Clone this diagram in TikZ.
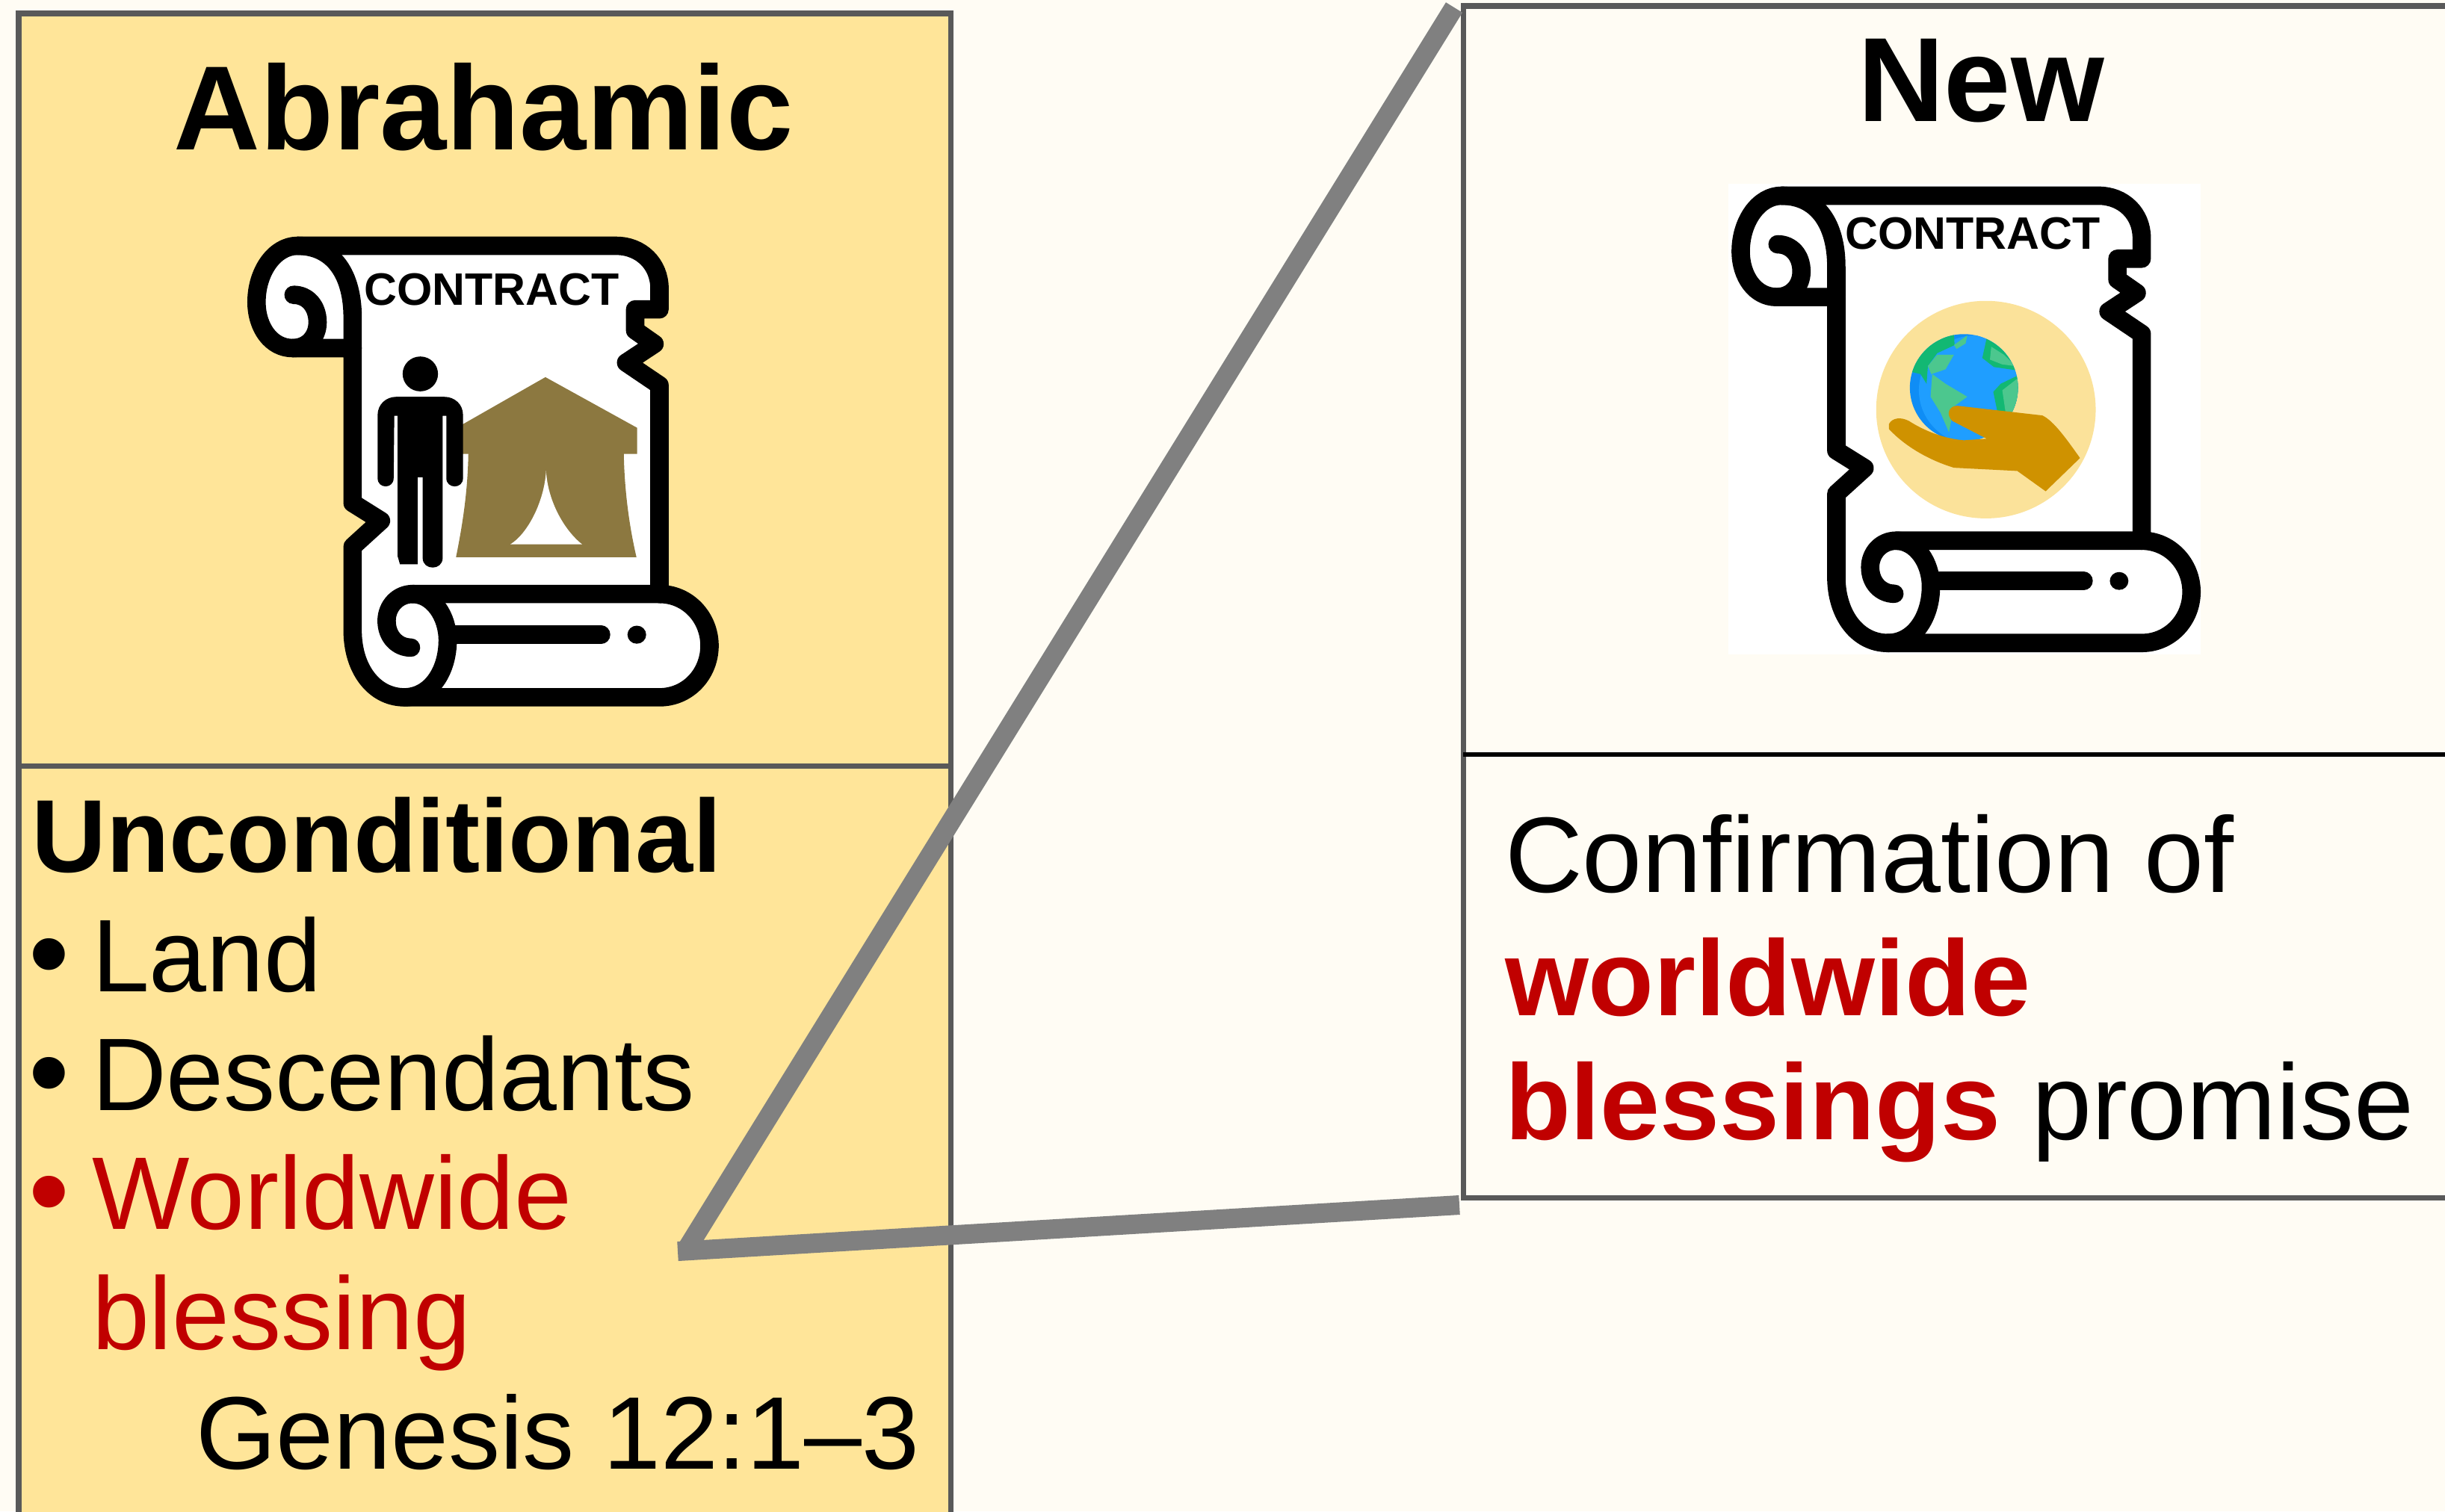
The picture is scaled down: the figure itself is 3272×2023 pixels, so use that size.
\documentclass[tikz,border=0pt]{standalone}
\usepackage{fontspec}
\setmainfont{Liberation Sans}
\definecolor{PaperCream}{HTML}{FFFCF4}
\definecolor{PanelGold}{HTML}{FFE599}
\definecolor{PanelEdge}{HTML}{595959}
\definecolor{LinkGrey}{HTML}{808080}
\definecolor{PromiseRed}{HTML}{C00000}
\definecolor{TentBrown}{HTML}{8C7840}
\definecolor{HandBrown}{HTML}{CF9200}
\definecolor{HaloGold}{HTML}{FBE29A}
\definecolor{SeaBlue}{HTML}{1F9EFF}
\definecolor{SeaDeep}{HTML}{0F8DF5}
\definecolor{LandGreen}{HTML}{4CC78E}
\definecolor{LandDeep}{HTML}{12B873}
\tikzset{
  panelbox/.style={draw=PanelEdge, line width=2pt, anchor=north west, inner sep=0pt, outer sep=0pt},
  linkline/.style={draw=LinkGrey, line width=7.4pt},
  words/.style={anchor=base west, inner sep=0pt, outer sep=0pt, font=\fontsize{39.3}{47}\selectfont},
  bulletwords/.style={words, font=\fontsize{44.5}{53}\selectfont},
  bigwords/.style={words, font=\fontsize{40.9}{50}\selectfont},
  bigbold/.style={words, font=\fontsize{40.9}{50}\selectfont\bfseries},
  boldwords/.style={words, font=\fontsize{39.4}{47}\selectfont\bfseries},
  titlewords/.style={anchor=base, inner sep=0pt, outer sep=0pt, font=\fontsize{45.6}{54}\selectfont\bfseries},
  contractwords/.style={anchor=base, inner sep=0pt, outer sep=0pt, font=\fontsize{17.3}{20}\selectfont\bfseries},
  pics/scrollicon/.style={code={
    \draw[line width=7pt, line join=round, fill=white] (220,88) -- (1175,88)
      .. controls (1250,88) and (1305,145) .. (1305,220) -- (1305,285) -- (1232,285) -- (1232,350)
      -- (1290,392) -- (1205,450) -- (1305,520) -- (1305,1167)
      .. controls (1390,1167) and (1455,1240) .. (1455,1327)
      .. controls (1455,1415) and (1390,1487) .. (1305,1487) -- (540,1487)
      .. controls (450,1487) and (385,1400) .. (385,1280) -- (385,1020) -- (470,940) -- (385,885)
      -- (385,405) -- (205,405) .. controls (140,405) and (97,340) .. (97,262)
      .. controls (97,170) and (150,88) .. (220,88) -- cycle;
    \draw[line width=7pt, line cap=round] (220,88) .. controls (330,88) and (385,180) .. (385,310) -- (385,405);
    \draw[line width=7pt, line cap=round] (208,240) .. controls (250,240) and (280,275) .. (280,325)
      .. controls (280,370) and (250,405) .. (205,405);
    \draw[line width=7pt, line cap=round] (1305,1167) -- (565,1167) .. controls (520,1167) and (487,1205) .. (487,1250)
      .. controls (487,1300) and (520,1333) .. (560,1333);
    \draw[line width=7pt, line cap=round] (565,1167) .. controls (625,1167) and (670,1235) .. (670,1310)
      .. controls (670,1405) and (620,1487) .. (540,1487);
    \draw[line width=7pt, line cap=round] (680,1293) -- (1130,1293);
    \fill (1237,1293) circle[radius=28];
  }},
  pics/tentman/.style={code={
    \fill[TentBrown] (963,495) -- (1238,652) -- (1238,733) -- (1198,733)
      .. controls (1200,850) and (1215,960) .. (1236,1053) -- (695,1053)
      .. controls (715,950) and (730,850) .. (732,733) -- (700,733) -- (700,650) -- cycle;
    \fill[white] (965,785) .. controls (960,880) and (910,980) .. (858,1013) -- (1073,1013)
      .. controls (1020,970) and (970,880) .. (965,785) -- cycle;
    \fill (588,485) ellipse[x radius=53, y radius=54];
    \fill (460,612) .. controls (460,580) and (485,556) .. (515,556) -- (660,556)
      .. controls (692,556) and (716,580) .. (716,612) -- (716,808)
      .. controls (716,842) and (666,842) .. (666,808) -- (666,615) -- (655,615) -- (655,1055)
      .. controls (655,1095) and (595,1095) .. (595,1055) -- (595,805) -- (580,805) -- (580,1075)
      -- (527,1075) -- (520,1050) -- (520,615) -- (510,615) -- (508,808)
      .. controls (508,842) and (460,842) .. (460,808) -- cycle;
  }},
  pics/globehand/.style={code={
    \fill[HaloGold] (846,760) ellipse[x radius=329, y radius=337];
    \begin{scope}
    \clip (780,692) ellipse[x radius=162, y radius=166];
    \fill[SeaDeep] (780,692) circle[radius=170];
    \fill[SeaBlue] (815,700) circle[radius=170];
    \fill[LandDeep] (610,640) -- (640,590) -- (700,530) -- (750,525) -- (752,560) -- (700,585) -- (672,625)
      -- (668,680) -- (650,650) -- cycle;
    \fill[LandDeep] (850,530) -- (835,600) -- (870,628) -- (950,640) -- (950,540) -- cycle;
    \fill[LandDeep] (868,705) -- (890,680) -- (950,650) -- (950,790) -- (885,790) -- cycle;
    \fill[LandGreen] (672,625) -- (700,590) -- (750,590) -- (725,635) -- (682,650) -- cycle;
    \fill[LandGreen] (750,560) -- (790,530) -- (785,555) -- (758,572) -- cycle;
    \fill[LandGreen] (862,565) -- (900,590) -- (935,625) -- (895,620) -- (858,605) -- cycle;
    \fill[LandGreen] (685,650) -- (725,680) -- (790,720) -- (750,750) -- (735,830) -- (710,770) -- (680,720) -- cycle;
    \fill[LandGreen] (895,700) -- (945,660) -- (945,770) -- (905,770) -- cycle;
    \end{scope}
    \fill[HandBrown] (555,805) .. controls (565,785) and (590,782) .. (615,795)
      .. controls (660,825) and (720,850) .. (780,855) -- (848,850) -- (745,795)
      .. controls (725,775) and (735,748) .. (760,748) -- (1015,778)
      .. controls (1050,795) and (1090,855) .. (1128,910) -- (1025,1013) -- (940,950) -- (750,940)
      .. controls (670,915) and (600,870) .. (555,820) -- cycle;
  }},
}
\begin{document}
\begin{tikzpicture}[x=0.01cm,y=-0.01cm]
\useasboundingbox (0,0) rectangle (3272,2023);
\clip (0,0) rectangle (3272,2023);
\fill[PaperCream] (0,0) rectangle (3272,2023);
%
\node[panelbox, fill=PanelGold, minimum width=12.47cm, minimum height=10.07cm] (abrahamichead) at (25,18) {};
\node[panelbox, fill=PanelGold, minimum width=12.47cm, minimum height=10.4cm] (abrahamicterms) at (25,1025) {};
\node[panelbox, fill=PaperCream, minimum width=14cm, minimum height=15.95cm] (newcovenant) at (1958,8) {};
\draw[line width=1.8pt] (newcovenant.west |- 0,1010) -- (3272,1010);
%
\node[titlewords] (abrahamictitle) at (647,200) {Abrahamic};
\node[titlewords] (newtitle) at (2651,162) {New};
%
\pic at (300,291) [xscale=0.4464, yscale=0.432] {scrollicon};
\pic at (300,291) [xscale=0.4464, yscale=0.432] {tentman};
\node[contractwords] (contractleft) at (658,408) {CONTRACT};
%
\fill[white] (2313,246) rectangle (2945,876);
\pic at (2286.4,224.3) [xscale=0.4442, yscale=0.428] {scrollicon};
\pic at (2280,220) [xscale=0.4464, yscale=0.432] {globehand};
\node[contractwords] (contractright) at (2640,333) {CONTRACT};
%
\node[boldwords] (unconditional) at (42,1167) {Unconditional};
\node[bulletwords] (bulletland) at (38,1329) {•};
\node[words] (land) at (123,1327) {Land};
\node[bulletwords] (bulletdescendants) at (38,1488) {•};
\node[words] (descendants) at (123,1486) {Descendants};
\node[bulletwords, text=PromiseRed] (bulletworldwide) at (38,1647) {•};
\node[words, text=PromiseRed] (worldwide) at (123,1645) {Worldwide};
\node[words, text=PromiseRed] (blessing) at (123,1806) {blessing};
\node[words] (genesis) at (262,1966) {Genesis 12:1–3};
%
\node[bigwords] (confirmation) at (2014,1194) {Confirmation of};
\node[bigbold, text=PromiseRed] (worldwideb) at (2014,1359) {worldwide};
\node[bigbold, text=PromiseRed] (blessings) at (2014,1525) {blessings};
\node[bigwords] (promise) at (2719,1525) {promise};
%
\coordinate (linktop) at (1946,10);
\coordinate (linkbottom) at (1953,1613);
\coordinate (linkapexa) at (919,1672);
\coordinate (linkapexb) at (907,1675);
\draw[linkline] (linktop) -- (linkapexa);
\draw[linkline] (linkapexb) -- (linkbottom);
\end{tikzpicture}
\end{document}
